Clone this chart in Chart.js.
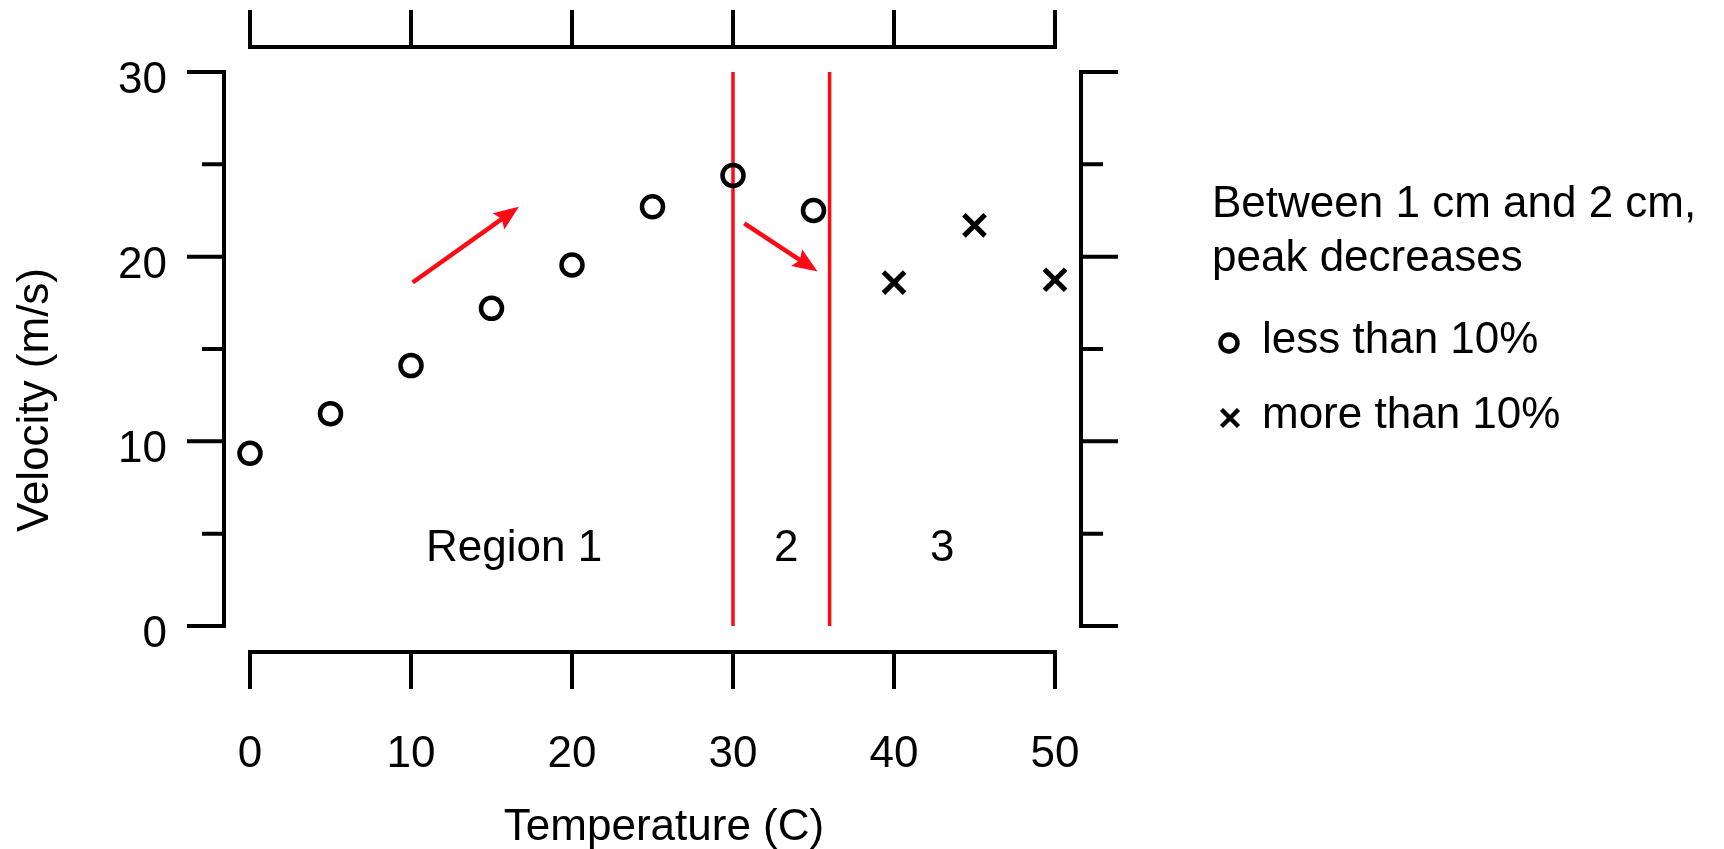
<!DOCTYPE html>
<html>
<head>
<meta charset="utf-8">
<script src="https://cdn.jsdelivr.net/npm/chart.js@4.4.1/dist/chart.umd.min.js"></script>
<style>
html,body{margin:0;padding:0;background:#fff;}
#wrap{width:1724px;height:849px;position:relative;}
</style>
</head>
<body>
<div id="wrap"><canvas id="c"></canvas></div>
<script>
// ---- data ----
const tempsLess = [0, 5, 10, 15, 20, 25, 30, 35];
const velLess   = [9.35, 11.5, 14.1, 17.2, 19.55, 22.7, 24.4, 22.5];
const tempsMore = [40, 45, 50];
const velMore   = [18.6, 21.7, 18.75];
const xTicks = [0, 10, 20, 30, 40, 50];
const yTicks = [0, 10, 20, 30];
const yMinorTicks = [5, 15, 25];
const boundaries = [30, 36];
const arrowFrom = [[10.1, 18.6], [30.7, 21.8]];
const arrowTo   = [[16.7, 22.7], [35.25, 19.2]];
const regionLabels = ['Region 1', '2', '3'];
const regionX = [16.4, 33.3, 43.0];
const regionY = 3.5;
const xTitle = 'Temperature (C)';
const yTitle = 'Velocity (m/s)';
const legendTitle = ['Between 1 cm and 2 cm,', 'peak decreases'];
const legendItems = ['less than 10%', 'more than 10%'];

const FONT = '44px "Liberation Sans", Arial, Helvetica, sans-serif';
const RED = '#ff0a14';

const rAxes = {
  id: 'rAxes',
  afterDraw(chart) {
    const {ctx, chartArea: ca, scales: {x, y}} = chart;
    ctx.save();
    ctx.strokeStyle = '#000';
    ctx.lineWidth = 4;
    ctx.lineCap = 'butt';
    ctx.lineJoin = 'miter';
    const TL = 37, ML = 22;
    const x0 = x.getPixelForValue(xTicks[0]);
    const x1 = x.getPixelForValue(xTicks[xTicks.length - 1]);
    const y0 = y.getPixelForValue(yTicks[0]);
    const y1 = y.getPixelForValue(yTicks[yTicks.length - 1]);
    const leftX = ca.left - 26, rightX = ca.right + 26;
    const topY = ca.top - 25, botY = ca.bottom + 26;

    // bottom axis
    ctx.beginPath();
    ctx.moveTo(x0, botY + TL); ctx.lineTo(x0, botY); ctx.lineTo(x1, botY); ctx.lineTo(x1, botY + TL);
    xTicks.slice(1, -1).forEach(v => { const p = x.getPixelForValue(v); ctx.moveTo(p, botY); ctx.lineTo(p, botY + TL); });
    ctx.stroke();
    // top axis
    ctx.beginPath();
    ctx.moveTo(x0, topY - TL); ctx.lineTo(x0, topY); ctx.lineTo(x1, topY); ctx.lineTo(x1, topY - TL);
    xTicks.slice(1, -1).forEach(v => { const p = x.getPixelForValue(v); ctx.moveTo(p, topY); ctx.lineTo(p, topY - TL); });
    ctx.stroke();
    // left axis
    ctx.beginPath();
    ctx.moveTo(leftX - TL, y1); ctx.lineTo(leftX, y1); ctx.lineTo(leftX, y0); ctx.lineTo(leftX - TL, y0);
    yTicks.slice(1, -1).forEach(v => { const p = y.getPixelForValue(v); ctx.moveTo(leftX, p); ctx.lineTo(leftX - TL, p); });
    yMinorTicks.forEach(v => { const p = y.getPixelForValue(v); ctx.moveTo(leftX, p); ctx.lineTo(leftX - ML, p); });
    ctx.stroke();
    // right axis
    ctx.beginPath();
    ctx.moveTo(rightX + TL, y1); ctx.lineTo(rightX, y1); ctx.lineTo(rightX, y0); ctx.lineTo(rightX + TL, y0);
    yTicks.slice(1, -1).forEach(v => { const p = y.getPixelForValue(v); ctx.moveTo(rightX, p); ctx.lineTo(rightX + TL, p); });
    yMinorTicks.forEach(v => { const p = y.getPixelForValue(v); ctx.moveTo(rightX, p); ctx.lineTo(rightX + ML, p); });
    ctx.stroke();

    // tick labels
    ctx.fillStyle = '#000';
    ctx.font = FONT;
    ctx.textBaseline = 'alphabetic';
    ctx.textAlign = 'right';
    yTicks.forEach(v => ctx.fillText(String(v), 167, y.getPixelForValue(v) + 21));
    ctx.textAlign = 'center';
    xTicks.forEach(v => ctx.fillText(String(v), x.getPixelForValue(v), 767));

    // axis titles
    ctx.fillText(xTitle, 664, 840);
    ctx.save();
    ctx.translate(48, 400);
    ctx.rotate(-Math.PI / 2);
    ctx.fillText(yTitle, 0, 0);
    ctx.restore();

    // region labels
    regionLabels.forEach((t, i) => ctx.fillText(t, x.getPixelForValue(regionX[i]), y.getPixelForValue(regionY)));

    // arrows
    ctx.strokeStyle = RED; ctx.fillStyle = RED; ctx.lineWidth = 4.5;
    arrowFrom.forEach((f, i) => {
      const ax = x.getPixelForValue(f[0]), ay = y.getPixelForValue(f[1]);
      const bx = x.getPixelForValue(arrowTo[i][0]), by = y.getPixelForValue(arrowTo[i][1]);
      const ang = Math.atan2(by - ay, bx - ax);
      const hl = 25, hw = 10;
      const cx = bx - hl * Math.cos(ang), cy = by - hl * Math.sin(ang);
      ctx.beginPath(); ctx.moveTo(ax, ay); ctx.lineTo(cx + 6 * Math.cos(ang), cy + 6 * Math.sin(ang)); ctx.stroke();
      ctx.beginPath();
      ctx.moveTo(bx, by);
      ctx.lineTo(cx - hw * Math.sin(ang), cy + hw * Math.cos(ang));
      ctx.lineTo(cx + 4 * Math.cos(ang), cy + 4 * Math.sin(ang));
      ctx.lineTo(cx + hw * Math.sin(ang), cy - hw * Math.cos(ang));
      ctx.closePath(); ctx.fill();
    });

    // legend
    ctx.fillStyle = '#000'; ctx.strokeStyle = '#000';
    ctx.textAlign = 'left';
    ctx.fillText(legendTitle[0], 1212, 217);
    ctx.fillText(legendTitle[1], 1212, 271);
    ctx.lineWidth = 4.5;
    ctx.beginPath(); ctx.arc(1229, 343, 8.5, 0, Math.PI * 2); ctx.stroke();
    ctx.fillText(legendItems[0], 1262, 353);
    const r = 8.5;
    ctx.beginPath();
    ctx.moveTo(1230 - r, 418 - r); ctx.lineTo(1230 + r, 418 + r);
    ctx.moveTo(1230 - r, 418 + r); ctx.lineTo(1230 + r, 418 - r);
    ctx.stroke();
    ctx.fillText(legendItems[1], 1262, 428);
    ctx.restore();
  }
};

new Chart(document.getElementById('c'), {
  type: 'scatter',
  data: {
    datasets: [
      { label: legendItems[0], data: tempsLess.map((t, i) => ({x: t, y: velLess[i]})),
        pointStyle: 'circle', pointRadius: 10.5, borderColor: '#000', backgroundColor: 'rgba(0,0,0,0)',
        borderWidth: 4.5, pointBorderWidth: 4.5, clip: false },
      { label: legendItems[1], data: tempsMore.map((t, i) => ({x: t, y: velMore[i]})),
        pointStyle: 'crossRot', pointRadius: 15, borderColor: '#000', backgroundColor: '#000',
        borderWidth: 5, pointBorderWidth: 5, clip: false },
      { type: 'line', label: 'boundary 1', data: [{x: boundaries[0], y: yTicks[0]}, {x: boundaries[0], y: yTicks[yTicks.length - 1]}],
        borderColor: RED, borderWidth: 3.5, pointRadius: 0, fill: false, clip: false },
      { type: 'line', label: 'boundary 2', data: [{x: boundaries[1], y: yTicks[0]}, {x: boundaries[1], y: yTicks[yTicks.length - 1]}],
        borderColor: RED, borderWidth: 3.5, pointRadius: 0, fill: false, clip: false }
    ]
  },
  options: {
    responsive: true,
    maintainAspectRatio: false,
    animation: false,
    events: [],
    layout: { padding: { left: 250, right: 669, top: 72, bottom: 223 } },
    plugins: { legend: { display: false }, tooltip: { enabled: false } },
    scales: {
      x: { type: 'linear', min: 0, max: 50, display: false },
      y: { type: 'linear', min: 0, max: 30, display: false }
    }
  },
  plugins: [rAxes]
});
</script>
</body>
</html>
